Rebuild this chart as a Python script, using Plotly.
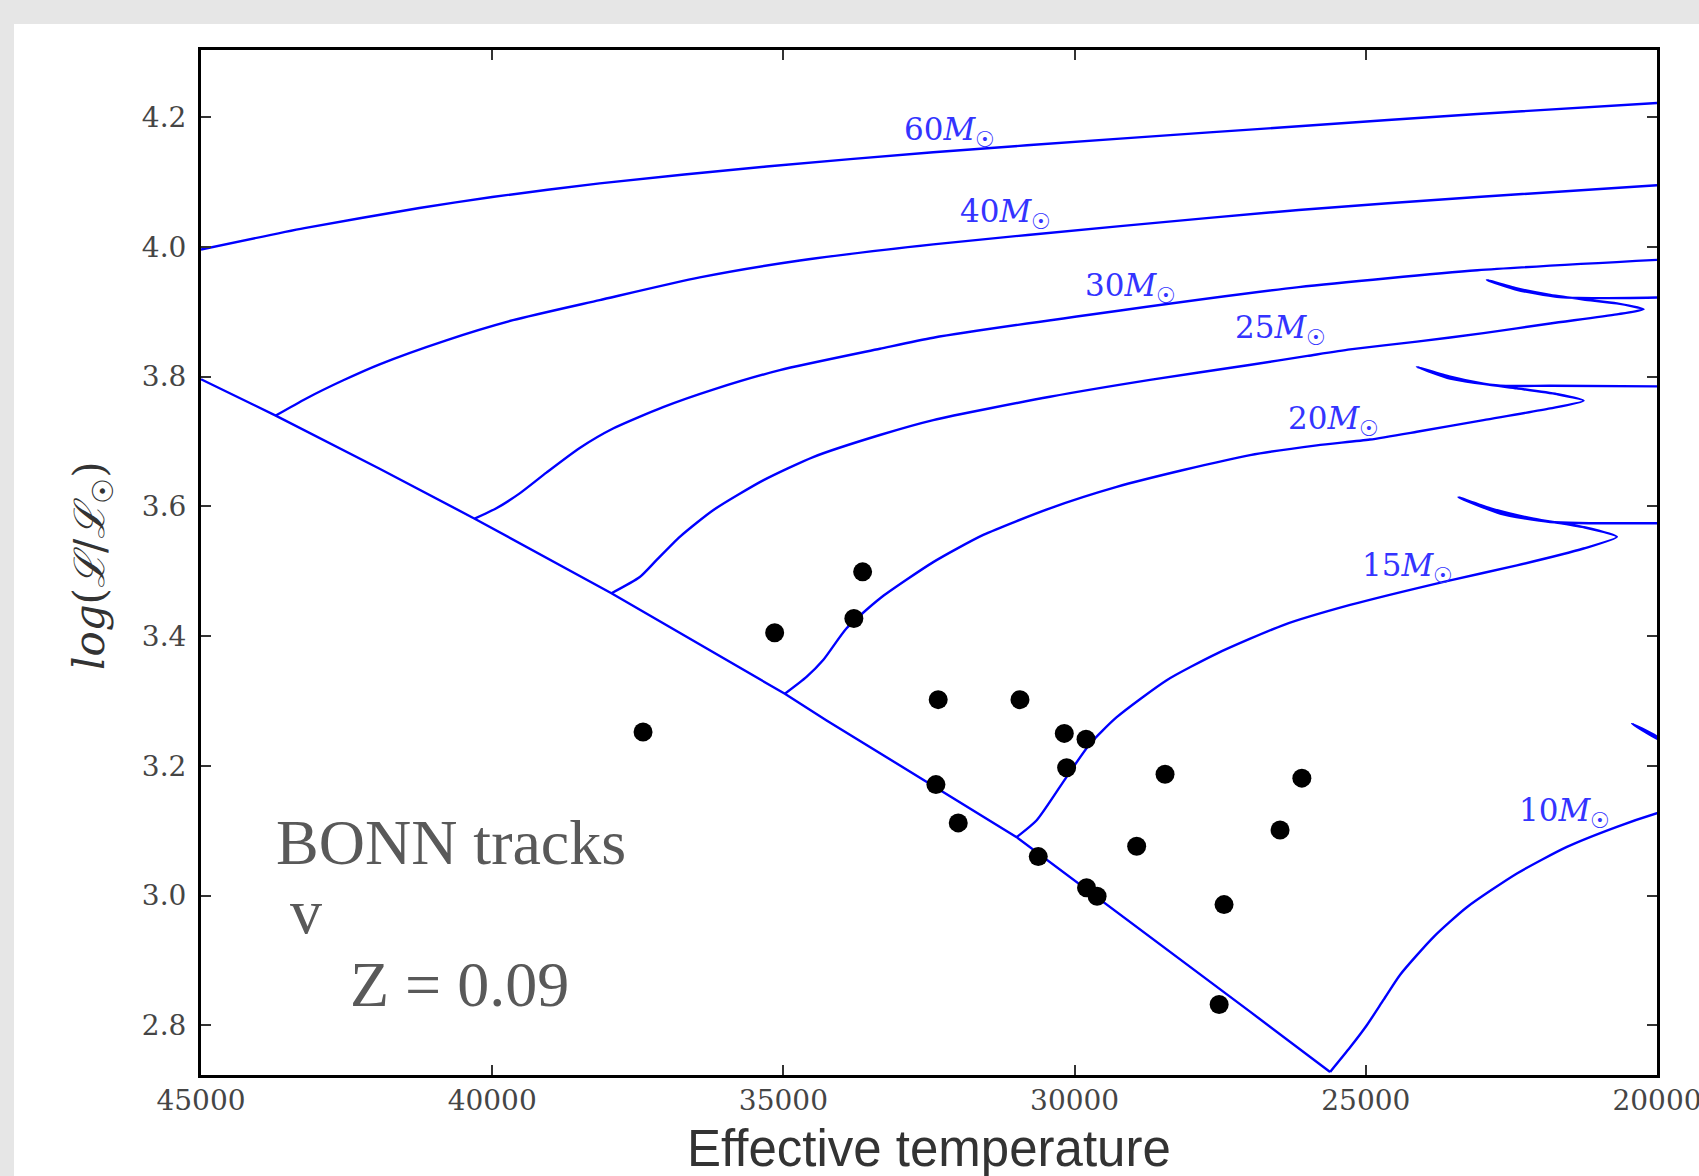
import plotly.graph_objects as go

# ---------------- data ----------------
T_zams = [45000, 43717, 41933, 40301, 37953, 34975, 34258, 30995, 26988, 25613]
L_zams = [3.796, 3.740, 3.658, 3.581, 3.466, 3.311, 3.270, 3.090, 2.821, 2.728]

T_60 = [45000, 43224, 41250, 40000, 38154, 35290, 32427, 29216, 26152, 23085, 20000]
L_60 = [3.996, 4.029, 4.060, 4.077, 4.098, 4.124, 4.146, 4.167, 4.186, 4.205, 4.222]

T_40 = [43717, 43200, 42566, 41933, 40788, 39643, 38154, 36436, 34718, 32427, 29216, 26152, 23085, 20000]
L_40 = [3.740, 3.766, 3.794, 3.819, 3.856, 3.887, 3.918, 3.953, 3.979, 4.004, 4.032, 4.057, 4.077, 4.095]

T_30 = [40301, 39929, 39528, 39069, 38497, 37925, 37066, 36207, 35061, 33343, 32427, 29216, 26152, 23085, 20000]
L_30 = [3.581, 3.597, 3.620, 3.652, 3.690, 3.720, 3.753, 3.780, 3.810, 3.843, 3.860, 3.902, 3.938, 3.964, 3.980]

T_25 = [37953, 37466, 37180, 36779, 36207, 35348, 34489, 33343, 32427, 30423, 28705, 27000, 26000, 25269,
        24123, 22979, 21834, 20689, 20230, 20689, 21261, 21834, 22405, 22920, 22405, 21719, 20973, 20000]
L_25 = [3.466, 3.491, 3.517, 3.553, 3.594, 3.640, 3.676, 3.710, 3.733, 3.769, 3.795, 3.818, 3.832, 3.842,
        3.854, 3.867, 3.882, 3.896, 3.904, 3.913, 3.919, 3.926, 3.936, 3.949, 3.934, 3.923, 3.921, 3.922]

T_20 = [34975, 34603, 34317, 33915, 33343, 32427, 31568, 30423, 29277, 28133, 26987, 25842, 24930, 24123,
        22979, 21834, 21261, 21719, 22405, 22979, 23551, 24123, 23551, 22692, 21834, 20000]
L_20 = [3.311, 3.337, 3.363, 3.412, 3.458, 3.514, 3.556, 3.597, 3.630, 3.656, 3.679, 3.694, 3.703, 3.715,
        3.733, 3.751, 3.763, 3.773, 3.782, 3.789, 3.800, 3.815, 3.797, 3.786, 3.786, 3.785]

T_15 = [30995, 30651, 30137, 29735, 29277, 28418, 27559, 26415, 25269, 23551, 22405, 21261, 20689,
        21261, 22120, 22859, 23408, 22692, 21834, 20000]
L_15 = [3.090, 3.116, 3.183, 3.234, 3.275, 3.332, 3.373, 3.417, 3.448, 3.486, 3.509, 3.535, 3.553,
        3.568, 3.581, 3.597, 3.614, 3.589, 3.576, 3.574]

T_10 = [25613, 25269, 24983, 24697, 24410, 23838, 23265, 22405, 21547, 20689, 20000, 19400, 18900,
        19400, 20000, 20429, 20000, 19400]
L_10 = [2.728, 2.766, 2.800, 2.839, 2.878, 2.936, 2.982, 3.034, 3.075, 3.106, 3.127, 3.142, 3.160,
        3.205, 3.245, 3.265, 3.242, 3.225]

T_obs = [37410, 35150, 33790, 33640, 32342, 30938, 30177, 29804, 30137, 28447,
         26098, 32381, 31998, 26472, 28934, 30624, 29795, 29614, 27434, 27518]
L_obs = [3.252, 3.405, 3.427, 3.499, 3.302, 3.302, 3.250, 3.241, 3.197, 3.187,
         3.181, 3.171, 3.112, 3.101, 3.076, 3.060, 3.012, 2.999, 2.986, 2.832]

track_names = ["60", "40", "30", "25", "20", "15", "10"]
track_T = [T_60, T_40, T_30, T_25, T_20, T_15, T_10]
track_L = [L_60, L_40, L_30, L_25, L_20, L_15, L_10]
label_T = [32141, 31182, 29048, 26463, 25561, 24281, 21592]
label_L = [4.178, 4.052, 3.938, 3.872, 3.733, 3.505, 3.128]

x_ticks = [45000, 40000, 35000, 30000, 25000, 20000]
y_ticks = [2.8, 3.0, 3.2, 3.4, 3.6, 3.8, 4.0, 4.2]

# ---------------- layout geometry ----------------
W, H = 1699, 1176
ML, MR, MT, MB = 201, 42, 50, 101
PW, PH = W - ML - MR, H - MT - MB


def px(x):
    return (x - ML) / PW


def py(y):
    return (H - MB - y) / PH


TRACK_COLOR = "#0000ff"
fig = go.Figure()

fig.add_trace(go.Scatter(x=T_zams, y=L_zams, mode="lines",
                         line=dict(color=TRACK_COLOR, width=2.4), showlegend=False,
                         hoverinfo="skip"))
for name, tt, ll in zip(track_names, track_T, track_L):
    fig.add_trace(go.Scatter(x=tt, y=ll, mode="lines", name=name + " Msun",
                             line=dict(color=TRACK_COLOR, width=2.4, shape="spline", smoothing=0.6),
                             showlegend=False))

fig.add_trace(go.Scatter(x=T_obs, y=L_obs, mode="markers",
                         marker=dict(color="black", size=19, line=dict(width=0)),
                         showlegend=False))

annotations = []
for name, lt, ll in zip(track_names, label_T, label_L):
    annotations.append(dict(x=lt, y=ll, xref="x", yref="y",
                            text=name + "<i>M</i><sub>☉</sub>", showarrow=False,
                            xanchor="center", yanchor="middle",
                            font=dict(family="DejaVu Serif", size=31, color="#3434ff")))

serif_grey = dict(family="Liberation Serif", size=64, color="#595959")
annotations += [
    dict(x=px(274), y=py(842), xref="paper", yref="paper", text="BONN tracks",
         showarrow=False, xanchor="left", yanchor="middle", font=serif_grey),
    dict(x=px(288), y=py(911), xref="paper", yref="paper", text="v",
         showarrow=False, xanchor="left", yanchor="middle", font=serif_grey),
    dict(x=px(348), y=py(984), xref="paper", yref="paper", text="Z = 0.09",
         showarrow=False, xanchor="left", yanchor="middle", font=serif_grey),
    dict(x=px(929), y=py(1148), xref="paper", yref="paper", text="Effective temperature",
         showarrow=False, xanchor="center", yanchor="middle",
         font=dict(family="Liberation Sans", size=51, color="#333333")),
    dict(x=px(92), y=py(566), xref="paper", yref="paper",
         text="<i>log</i>(<i>ℒ</i>/<i>ℒ</i><sub>☉</sub>)", textangle=-90,
         showarrow=False, xanchor="center", yanchor="middle",
         font=dict(family="DejaVu Serif", size=42, color="#333333")),
]

shapes = [
    dict(type="rect", xref="paper", yref="paper", x0=px(0), x1=px(14), y0=py(H), y1=py(0),
         fillcolor="#e6e6e6", line=dict(width=0), layer="below"),
    dict(type="rect", xref="paper", yref="paper", x0=px(0), x1=px(W), y0=py(24), y1=py(0),
         fillcolor="#e6e6e6", line=dict(width=0), layer="below"),
]

axis_common = dict(showgrid=False, zeroline=False, showline=True, linecolor="black", linewidth=3,
                   mirror="ticks", ticks="inside", ticklen=10, tickwidth=1.5, tickcolor="#333333",
                   ticklabeloverflow="allow",
                   tickfont=dict(family="DejaVu Serif", size=28, color="#454545"))

fig.update_layout(
    width=W, height=H, autosize=False,
    margin=dict(l=ML, r=MR, t=MT, b=MB, pad=0),
    paper_bgcolor="white", plot_bgcolor="white",
    xaxis=dict(range=[45000, 20000], tickvals=x_ticks, ticktext=[str(v) for v in x_ticks],
               ticklabelstandoff=-2, automargin=False, **axis_common),
    yaxis=dict(range=[2.7233, 4.3036], tickvals=y_ticks, ticktext=[f"{v:.1f}" for v in y_ticks],
               ticklabelstandoff=6, automargin=False, **axis_common),
    annotations=annotations,
    shapes=shapes,
    showlegend=False,
)

fig.write_html("out.html", config={"responsive": False},
               post_script="document.body.style.margin='0';document.body.style.overflow='hidden';")
